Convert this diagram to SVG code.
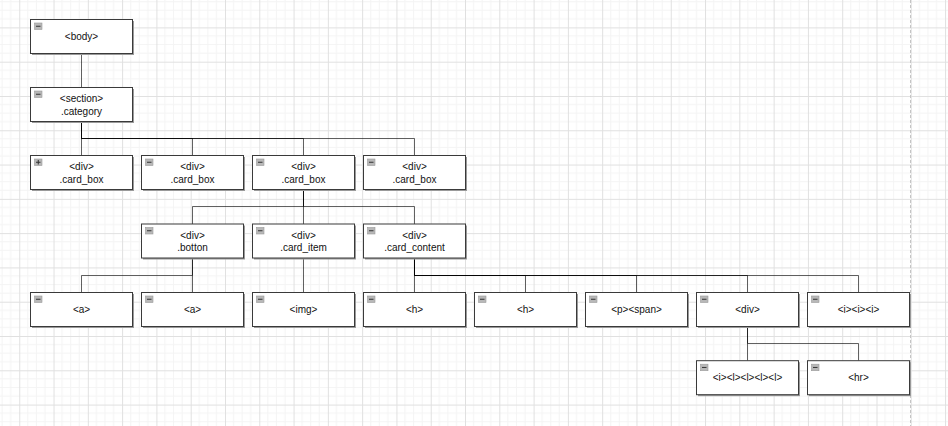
<svg xmlns="http://www.w3.org/2000/svg" width="948" height="426" viewBox="0 0 948 426">
<style>
.box{fill:#fff;stroke:#3a3a3a;stroke-width:1}
.sh{fill:#9a9a9a}
.ic{fill:#b8b8b8;stroke:#999;stroke-width:0.6}
.icl{stroke:#333;stroke-width:1}
.t{font-family:"Liberation Sans",Arial,sans-serif;font-size:10px;fill:#111;text-anchor:middle}
.e{fill:none;stroke:#000;stroke-opacity:0.62;stroke-width:1}
</style>
<defs>
<pattern id="grid" patternUnits="userSpaceOnUse" x="19.25" y="27.4" width="34.29" height="34.29">
<path d="M8.57 0V34.29M17.15 0V34.29M25.72 0V34.29M0 8.57H34.29M0 17.15H34.29M0 25.72H34.29" stroke="#f4f4f4" stroke-width="1" fill="none"/>
<path d="M0.5 0V34.29M0 0.5H34.29" stroke="#e0e0e0" stroke-width="1" fill="none"/>
</pattern>
<g id="minus"><rect class="ic" x="0" y="0" width="7.5" height="6.5"/><path class="icl" d="M1.5 3.25H6"/></g>
<g id="plus"><rect class="ic" x="0" y="0" width="7.5" height="6.5"/><path class="icl" d="M1.5 3.25H6M3.75 1V5.5"/></g>
</defs>
<rect width="948" height="426" fill="#fff"/>
<rect width="948" height="426" fill="url(#grid)"/>
<path d="M910.5 0V426" stroke="#c4c4c4" stroke-width="1" stroke-dasharray="3,2"/>

<g id="connectors">
<path class="e" d="M81.5 53.8V87.7"/>
<path class="e" d="M81.5 122V138.5H81.5V155.5"/>
<path class="e" d="M81.5 122V138.5H192.5V155.5"/>
<path class="e" d="M81.5 122V138.5H303.5V155.5"/>
<path class="e" d="M81.5 122V138.5H414.5V155.5"/>
<path class="e" d="M303.5 189.8V206.5H192.5V224"/>
<path class="e" d="M303.5 189.8V206.5H303.5V224"/>
<path class="e" d="M303.5 189.8V206.5H414.5V224"/>
<path class="e" d="M192.5 258.3V275.5H81.5V292.5"/>
<path class="e" d="M192.5 258.3V275.5H192.5V292.5"/>
<path class="e" d="M303.5 258.3V292.5"/>
<path class="e" d="M414.5 258.3V275.5H414.5V292.5"/>
<path class="e" d="M414.5 258.3V275.5H525.5V292.5"/>
<path class="e" d="M414.5 258.3V275.5H636.5V292.5"/>
<path class="e" d="M414.5 258.3V275.5H747.5V292.5"/>
<path class="e" d="M414.5 258.3V275.5H858.5V292.5"/>
<path class="e" d="M747.5 326.8V343.5H747.5V360.7"/>
<path class="e" d="M747.5 326.8V343.5H858.5V360.7"/>
</g>

<g id="n-body" transform="translate(30.5,19.5)">
<rect class="sh" x="1.5" y="1.5" width="102" height="34"/><rect class="box" width="102" height="34"/><use href="#minus" x="4" y="3.5"/>
<text class="t" x="51" y="20.5">&lt;body&gt;</text></g>

<g id="n-section" transform="translate(30.5,87.5)">
<rect class="sh" x="1.5" y="1.5" width="102" height="34"/><rect class="box" width="102" height="34"/><use href="#minus" x="4" y="3.5"/>
<text class="t" x="51" y="14.5">&lt;section&gt;</text><text class="t" x="51" y="27">.category</text></g>

<g id="n-cardbox1" transform="translate(30.5,155.5)">
<rect class="sh" x="1.5" y="1.5" width="102" height="34"/><rect class="box" width="102" height="34"/><use href="#plus" x="4" y="3.5"/>
<text class="t" x="51" y="14.5">&lt;div&gt;</text><text class="t" x="51" y="27">.card_box</text></g>

<g id="n-cardbox2" transform="translate(141.5,155.5)">
<rect class="sh" x="1.5" y="1.5" width="102" height="34"/><rect class="box" width="102" height="34"/><use href="#minus" x="4" y="3.5"/>
<text class="t" x="51" y="14.5">&lt;div&gt;</text><text class="t" x="51" y="27">.card_box</text></g>

<g id="n-cardbox3" transform="translate(252.5,155.5)">
<rect class="sh" x="1.5" y="1.5" width="102" height="34"/><rect class="box" width="102" height="34"/><use href="#minus" x="4" y="3.5"/>
<text class="t" x="51" y="14.5">&lt;div&gt;</text><text class="t" x="51" y="27">.card_box</text></g>

<g id="n-cardbox4" transform="translate(363.5,155.5)">
<rect class="sh" x="1.5" y="1.5" width="102" height="34"/><rect class="box" width="102" height="34"/><use href="#minus" x="4" y="3.5"/>
<text class="t" x="51" y="14.5">&lt;div&gt;</text><text class="t" x="51" y="27">.card_box</text></g>

<g id="n-botton" transform="translate(141.5,224)">
<rect class="sh" x="1.5" y="1.5" width="102" height="34"/><rect class="box" width="102" height="34"/><use href="#minus" x="4" y="3.5"/>
<text class="t" x="51" y="14.5">&lt;div&gt;</text><text class="t" x="51" y="27">.botton</text></g>

<g id="n-carditem" transform="translate(252.5,224)">
<rect class="sh" x="1.5" y="1.5" width="102" height="34"/><rect class="box" width="102" height="34"/><use href="#minus" x="4" y="3.5"/>
<text class="t" x="51" y="14.5">&lt;div&gt;</text><text class="t" x="51" y="27">.card_item</text></g>

<g id="n-cardcontent" transform="translate(363.5,224)">
<rect class="sh" x="1.5" y="1.5" width="102" height="34"/><rect class="box" width="102" height="34"/><use href="#minus" x="4" y="3.5"/>
<text class="t" x="51" y="14.5">&lt;div&gt;</text><text class="t" x="51" y="27">.card_content</text></g>

<g id="n-a1" transform="translate(30.5,292.5)">
<rect class="sh" x="1.5" y="1.5" width="102" height="34"/><rect class="box" width="102" height="34"/><use href="#minus" x="4" y="3.5"/>
<text class="t" x="51" y="20.5">&lt;a&gt;</text></g>

<g id="n-a2" transform="translate(141.5,292.5)">
<rect class="sh" x="1.5" y="1.5" width="102" height="34"/><rect class="box" width="102" height="34"/><use href="#minus" x="4" y="3.5"/>
<text class="t" x="51" y="20.5">&lt;a&gt;</text></g>

<g id="n-img" transform="translate(252.5,292.5)">
<rect class="sh" x="1.5" y="1.5" width="102" height="34"/><rect class="box" width="102" height="34"/><use href="#minus" x="4" y="3.5"/>
<text class="t" x="51" y="20.5">&lt;img&gt;</text></g>

<g id="n-h1" transform="translate(363.5,292.5)">
<rect class="sh" x="1.5" y="1.5" width="102" height="34"/><rect class="box" width="102" height="34"/><use href="#minus" x="4" y="3.5"/>
<text class="t" x="51" y="20.5">&lt;h&gt;</text></g>

<g id="n-h2" transform="translate(474.5,292.5)">
<rect class="sh" x="1.5" y="1.5" width="102" height="34"/><rect class="box" width="102" height="34"/><use href="#minus" x="4" y="3.5"/>
<text class="t" x="51" y="20.5">&lt;h&gt;</text></g>

<g id="n-pspan" transform="translate(585.5,292.5)">
<rect class="sh" x="1.5" y="1.5" width="102" height="34"/><rect class="box" width="102" height="34"/><use href="#minus" x="4" y="3.5"/>
<text class="t" x="51" y="20.5">&lt;p&gt;&lt;span&gt;</text></g>

<g id="n-div" transform="translate(696.5,292.5)">
<rect class="sh" x="1.5" y="1.5" width="102" height="34"/><rect class="box" width="102" height="34"/><use href="#minus" x="4" y="3.5"/>
<text class="t" x="51" y="20.5">&lt;div&gt;</text></g>

<g id="n-iii" transform="translate(807.5,292.5)">
<rect class="sh" x="1.5" y="1.5" width="102" height="34"/><rect class="box" width="102" height="34"/><use href="#minus" x="4" y="3.5"/>
<text class="t" x="51" y="20.5">&lt;i&gt;&lt;i&gt;&lt;i&gt;</text></g>

<g id="n-illll" transform="translate(696.5,360.7)">
<rect class="sh" x="1.5" y="1.5" width="102" height="34"/><rect class="box" width="102" height="34"/><use href="#minus" x="4" y="3.5"/>
<text class="t" x="51" y="20.5">&lt;i&gt;&lt;l&gt;&lt;l&gt;&lt;l&gt;&lt;l&gt;</text></g>

<g id="n-hr" transform="translate(807.5,360.7)">
<rect class="sh" x="1.5" y="1.5" width="102" height="34"/><rect class="box" width="102" height="34"/><use href="#minus" x="4" y="3.5"/>
<text class="t" x="51" y="20.5">&lt;hr&gt;</text></g>
</svg>
